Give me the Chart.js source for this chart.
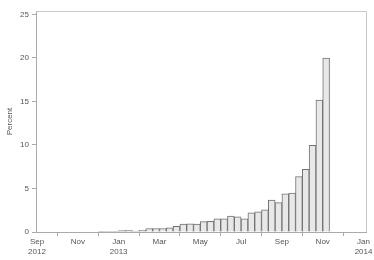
<!DOCTYPE html>
<html>
<head>
<meta charset="utf-8">
<script src="https://cdn.jsdelivr.net/npm/chart.js@4"></script>
<style>
html,body{margin:0;padding:0;background:#fff;}
#wrap{width:374px;height:260px;}
</style>
</head>
<body>
<div id="wrap"><canvas id="c" width="374" height="260"></canvas></div>
<script>
// Bin start dates (10-day bins: 1st, 11th, 21st of each month)
const binStart = [
  '2012-12-01','2012-12-11','2012-12-21',
  '2013-01-01','2013-01-11','2013-01-21',
  '2013-02-01','2013-02-11','2013-02-21',
  '2013-03-01','2013-03-11','2013-03-21',
  '2013-04-01','2013-04-11','2013-04-21',
  '2013-05-01','2013-05-11','2013-05-21',
  '2013-06-01','2013-06-11','2013-06-21',
  '2013-07-01','2013-07-11','2013-07-21',
  '2013-08-01','2013-08-11','2013-08-21',
  '2013-09-01','2013-09-11','2013-09-21',
  '2013-10-01','2013-10-11','2013-10-21',
  '2013-11-01'
];
// Percent per bin
const percent = [
  0.05, 0.08, 0.08,
  0.15, 0.2, 0.12,
  0.2, 0.4, 0.4,
  0.4, 0.47, 0.66,
  0.9, 0.93, 0.9,
  1.2, 1.24, 1.51,
  1.51, 1.82, 1.74,
  1.5, 2.2, 2.32,
  2.56, 3.68, 3.37,
  4.38, 4.46, 6.36,
  7.2, 9.96, 15.15,
  20.0
];
// X tick labels (every two months, starting Sep 2012)
const xTickMonths = [0, 2, 4, 6, 8, 10, 12, 14, 16];
const xTickLabels = [['Sep','2012'], 'Nov', ['Jan','2013'], 'Mar', 'May', 'Jul', 'Sep', 'Nov', ['Jan','2014']];
const yTicks = [0, 5, 10, 15, 20, 25];

// month offset since 2012-09-01, with each 10-day bin = 1/3 month
function toMonth(s){
  const [y,m,d] = s.split('-').map(Number);
  const dek = d >= 21 ? 2 : (d >= 11 ? 1 : 0);
  return (y - 2012) * 12 + (m - 9) + dek / 3;
}
const points = binStart.map((s,i) => ({x: toMonth(s) + 1/6, y: percent[i]}));

const boxPlugin = {
  id: 'box',
  afterDraw(chart){
    const {ctx, chartArea:a} = chart;
    ctx.save();
    ctx.strokeStyle = '#c8c8c8';
    ctx.lineWidth = 1;
    ctx.beginPath();
    ctx.moveTo(a.left, Math.round(a.top)+0.5);
    ctx.lineTo(Math.round(a.right)+0.5, Math.round(a.top)+0.5);
    ctx.lineTo(Math.round(a.right)+0.5, a.bottom);
    ctx.stroke();
    ctx.restore();
  }
};

const font = {family: '"Liberation Sans", Arial, sans-serif', size: 8};
new Chart(document.getElementById('c'), {
  type: 'bar',
  data: {
    datasets: [{
      data: points,
      backgroundColor: '#e8e8e8',
      borderColor: '#727272',
      borderWidth: 1,
      barPercentage: 1,
      categoryPercentage: 1,
      borderSkipped: 'bottom'
    }]
  },
  options: {
    responsive: false,
    animation: false,
    layout: {padding: {left: 0, right: 8, top: 11, bottom: 0}},
    plugins: {legend: {display: false}, tooltip: {enabled: false}},
    scales: {
      x: {
        type: 'linear',
        min: -0.05,
        max: 16.12,
        bounds: 'data',
        offset: false,
        afterBuildTicks(scale){ scale.ticks = xTickMonths.map(v => ({value: v})); },
        afterFit(scale){ scale.height = 28; },
        ticks: {
          autoSkip: false,
          maxRotation: 0,
          color: '#555',
          font: font,
          padding: 1,
          callback(v){ const i = xTickMonths.indexOf(v); return i >= 0 ? xTickLabels[i] : ''; }
        },
        grid: {display: true, drawOnChartArea: false, drawTicks: true, tickLength: 4, color: '#aaa'},
        border: {display: true, color: '#aaa'}
      },
      y: {
        min: 0,
        max: 25.4,
        bounds: 'data',
        afterBuildTicks(scale){ scale.ticks = yTicks.map(v => ({value: v})); },
        afterFit(scale){ scale.width = 36; },
        title: {display: true, text: 'Percent', color: '#555', font: font, padding: {top: 5, bottom: 0}},
        ticks: {color: '#555', font: font, padding: 3},
        grid: {display: true, drawOnChartArea: false, drawTicks: true, tickLength: 4, color: '#aaa'},
        border: {display: true, color: '#aaa'}
      }
    }
  },
  plugins: [boxPlugin]
});
</script>
</body>
</html>
